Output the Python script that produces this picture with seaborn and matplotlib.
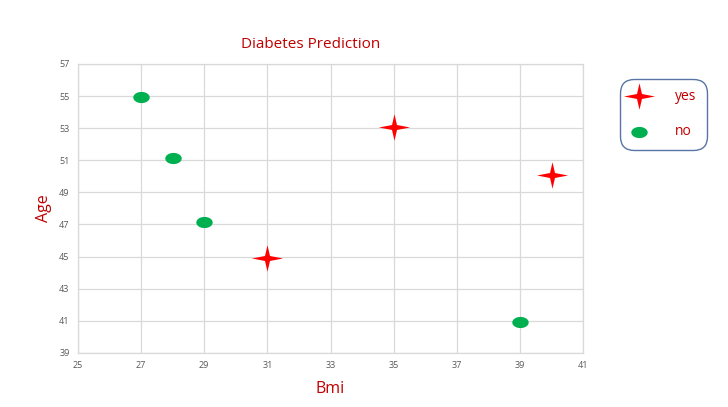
#!/usr/bin/env python3
"""Diabetes prediction scatter: Bmi vs Age, split by outcome"""

import numpy as np
import pandas as pd
import matplotlib
matplotlib.use('Agg')
import matplotlib.pyplot as plt
import seaborn as sns

# --------------------------------------------------
# data
yes_bmi = [31, 35, 40]
yes_age = [44.9, 53.05, 50.1]
no_bmi = [27, 28, 29, 39]
no_age = [54.95, 51.15, 47.15, 40.9]

x_ticks = list(range(25, 42, 2))
y_ticks = list(range(39, 58, 2))

RED_TXT = '#C00000'

# four point star and a flat ellipse as custom markers
STAR = [(0, 0.85), (0.16, 0.16), (1, 0), (0.16, -0.16), (0, -0.85),
        (-0.16, -0.16), (-1, 0), (-0.16, 0.16), (0, 0.85)]
theta = np.linspace(0, 2 * np.pi, 40)
ELLIPSE = list(zip(np.cos(theta), 0.68 * np.sin(theta)))

df = pd.concat([
    pd.DataFrame({'Bmi': yes_bmi, 'Age': yes_age, 'Outcome': 'yes'}),
    pd.DataFrame({'Bmi': no_bmi, 'Age': no_age, 'Outcome': 'no'}),
], ignore_index=True)

sns.set_style('white')
plt.rcParams['font.family'] = ['Open Sans', 'DejaVu Sans']

fig = plt.figure(figsize=(7.28, 4.07), dpi=100)
ax = fig.add_axes([0.107, 0.133, 0.694, 0.710])

styles = {'yes': (STAR, '#FF0000', 500), 'no': (ELLIPSE, '#00B050', 140)}
for name, (mk, col, size) in styles.items():
    sub = df[df['Outcome'] == name]
    sns.scatterplot(data=sub, x='Bmi', y='Age', marker=mk, color=col,
                    s=size, linewidth=0, ax=ax, label=name, zorder=3)

ax.set_xlim(25, 41)
ax.set_ylim(39, 57)
ax.set_xticks(x_ticks)
ax.set_yticks(y_ticks)
ax.tick_params(labelsize=6.5, colors='#595959', length=0, pad=6)
ax.grid(True, color='#D9D9D9', linewidth=0.9)
for sp in ax.spines.values():
    sp.set_color('#D9D9D9')
    sp.set_linewidth(0.9)

ax.set_xlabel('Bmi', color=RED_TXT, fontsize=11.5, labelpad=8)
ax.set_ylabel('Age', color=RED_TXT, fontsize=11.5, labelpad=5)
fig.text(0.426, 0.883, 'Diabetes Prediction', color=RED_TXT,
         fontsize=11, ha='center')

ax.legend_.remove()
handles, labels = ax.get_legend_handles_labels()
leg = fig.legend(handles, labels, loc='upper left',
                 bbox_to_anchor=(0.856, 0.800), frameon=True,
                 fancybox=True, fontsize=10, labelcolor=RED_TXT,
                 handletextpad=2.0, borderpad=0.55, labelspacing=1.45,
                 handlelength=1.2, borderaxespad=0)
leg.get_frame().set_edgecolor('#2F528F')
leg.get_frame().set_linewidth(1.0)
leg.get_frame().set_boxstyle('round,pad=0.2,rounding_size=1.0')

fig.savefig('out.png', dpi=100)
